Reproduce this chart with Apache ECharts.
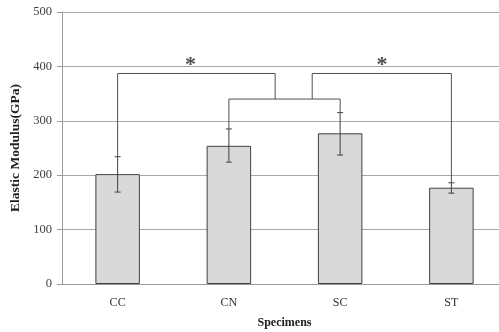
<!DOCTYPE html>
<html>
<head>
<meta charset="utf-8">
<script src="https://cdn.jsdelivr.net/npm/echarts@6/dist/echarts.min.js"></script>
<style>html,body{margin:0;padding:0;background:#fff}#c{width:499px;height:332px}</style>
</head>
<body>
<div id="c"></div>
<script>
const categories = ['CC', 'CN', 'SC', 'ST'];
const modulus = [202, 254, 277, 177];
const errLow = [169, 224, 237, 167];
const errHigh = [234, 285, 315, 186];
const yTicks = [0, 100, 200, 300, 400, 500];
// brackets in (category index, value) space
const bracketLeft = [[0, 234], [0, 387], [1.416, 387], [1.416, 340]];
const bracketInner = [[1, 285], [1, 340], [2, 340], [2, 315]];
const bracketRight = [[1.749, 340], [1.749, 387], [3, 387], [3, 186]];
const stars = [[0.655, 407], [2.377, 407]];

const serif = '"Liberation Serif", "DejaVu Serif", serif';
const chart = echarts.init(document.getElementById('c'), null, {renderer: 'canvas'});
const errData = categories.map((c, i) => [i, errLow[i], errHigh[i]]);
const bracketSeries = (d) => ({
  type: 'line', xAxisIndex: 1, yAxisIndex: 0, data: d, symbol: 'none', silent: true,
  lineStyle: {color: '#505050', width: 1}, z: 5, animation: false
});
chart.setOption({
  animation: false,
  grid: {left: 62, top: 12, width: 445, bottom: 48, containLabel: false, outerBoundsMode: 'none'},
  xAxis: [{
    type: 'category', data: categories,
    axisLine: {show: true, lineStyle: {color: '#9a9a9a'}},
    axisTick: {show: false},
    axisLabel: {fontFamily: serif, fontSize: 12, color: '#303030', margin: 13},
    name: 'Specimens', nameLocation: 'middle', nameGap: 33,
    nameTextStyle: {fontFamily: serif, fontSize: 12, fontWeight: 'bold', color: '#202020'}
  }, {
    type: 'value', min: -0.5, max: 3.5, show: false
  }],
  yAxis: {
    type: 'value', min: yTicks[0], max: yTicks[yTicks.length - 1], interval: 100,
    axisLine: {show: true, onZero: false, lineStyle: {color: '#9a9a9a'}},
    axisTick: {show: true, length: 5, lineStyle: {color: '#9a9a9a'}},
    splitLine: {show: true, lineStyle: {color: '#a8a8a8', width: 1}},
    axisLabel: {fontFamily: serif, fontSize: 12.5, color: '#404040', margin: 10},
    name: 'Elastic Modulus(GPa)', nameLocation: 'middle', nameGap: 32, nameRotate: 90,
    nameTextStyle: {fontFamily: serif, fontSize: 13.5, fontWeight: 'bold', color: '#202020'}
  },
  series: [{
    type: 'bar', data: modulus, barWidth: '40%',
    itemStyle: {color: '#d9d9d9', borderColor: '#404040', borderWidth: 1}
  }, {
    type: 'custom', xAxisIndex: 0, data: errData, z: 6,
    renderItem: function (params, api) {
      const x = api.value(0);
      const lo = api.coord([x, api.value(1)]);
      const hi = api.coord([x, api.value(2)]);
      const cw = 3;
      const st = {stroke: '#404040', lineWidth: 1};
      return {type: 'group', children: [
        {type: 'line', shape: {x1: lo[0], y1: lo[1], x2: hi[0], y2: hi[1]}, style: st},
        {type: 'line', shape: {x1: lo[0] - cw, y1: lo[1], x2: lo[0] + cw, y2: lo[1]}, style: st},
        {type: 'line', shape: {x1: hi[0] - cw, y1: hi[1], x2: hi[0] + cw, y2: hi[1]}, style: st}
      ]};
    }
  },
  bracketSeries(bracketLeft), bracketSeries(bracketInner), bracketSeries(bracketRight),
  {
    type: 'scatter', xAxisIndex: 1, data: stars, symbolSize: 0, silent: true,
    label: {show: true, formatter: '*', position: 'inside', fontFamily: serif, fontSize: 22,
      fontWeight: 'bold', color: '#202020', offset: [0, 3]}
  }]
});
</script>
</body>
</html>
